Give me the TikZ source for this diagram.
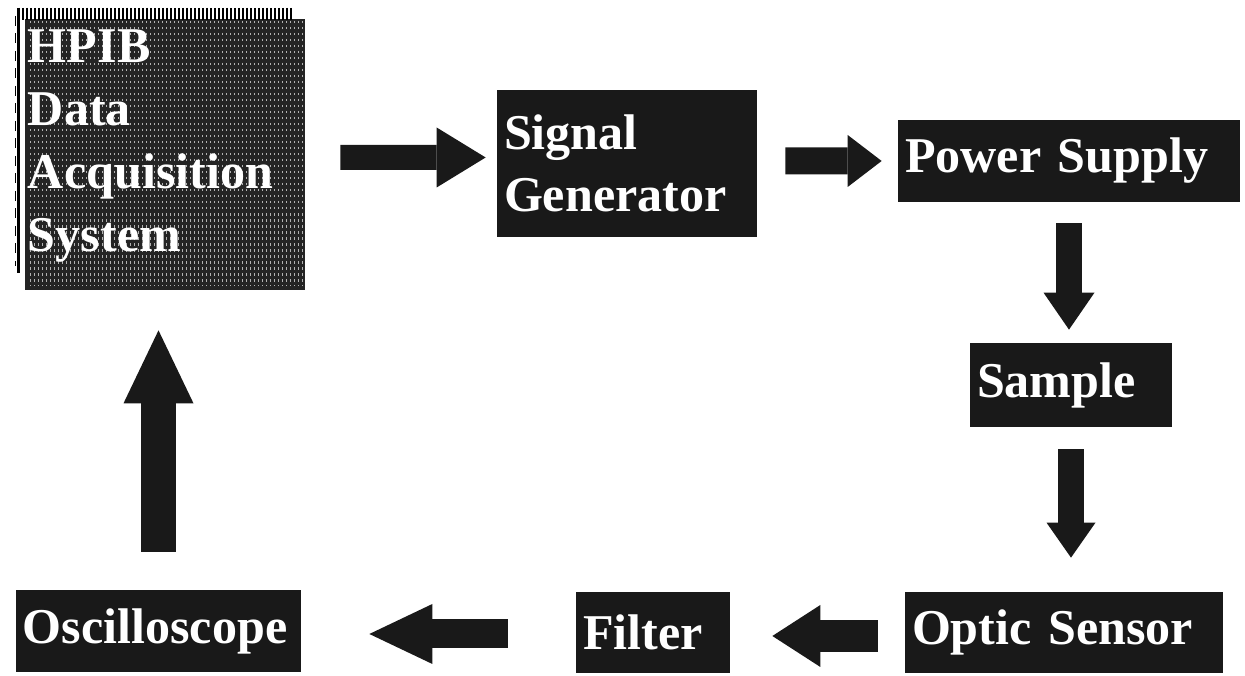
\documentclass[tikz,border=0pt]{standalone}
\usepackage{fontspec}
\setmainfont{Liberation Serif}
\usetikzlibrary{arrows.meta}
\definecolor{boxgray}{gray}{0.1}
\definecolor{streakgray}{gray}{0.14}

\tikzset{
	block/.style n args={2}{fill=boxgray, inner sep=0pt, inner xsep=0.14cm,
		minimum width=#1, minimum height=#2, text width=#1-0.28cm,
		align=left, text=white, font=\fontsize{28.5}{35.5}\selectfont\bfseries},
	flow/.style n args={3}{draw=boxgray, line width=#1,
		-{Triangle[width=#2, length=#3, line width=0pt]}}
}

\begin{document}
\begin{tikzpicture}
	%%%%% START %%%%%
	\useasboundingbox (0, 0) rectangle (24.9, 13.52);
	
	% top row
	\node[block={5.6cm}{5.42cm}, fill=streakgray, font=\fontsize{28.5}{35.85}\selectfont\bfseries, inner xsep=0.06cm, text width=5.48cm, text depth=4.32cm] (hpib) at (3.3, 10.43) {};
	% streaks of the hpib box
	\foreach \x in {0.6, 0.68, ..., 6.05}
		\draw[white!70!black, line width=0.015cm, dash pattern=on 0.05cm off 0.07cm] (\x, 13.1) -- (\x, 7.8);
	\node[block={5.6cm}{5.42cm}, fill=none, font=\fontsize{28.5}{35.85}\selectfont\bfseries, inner xsep=0.06cm, text width=5.48cm, text depth=4.32cm] (hpibtext) at (hpib) {HPIB\\Data\\Acquisition\\System};
	\node[block={5.2cm}{2.94cm}] (siggen) at (12.54, 10.25) {Signal\\Generator};
	\node[block={6.84cm}{1.64cm}] (power) at (21.38, 10.3) {Power Supply};
	
	% right column
	\node[block={4.04cm}{1.68cm}] (sample) at (21.42, 5.82) {Sample};
	
	% bottom row
	\node[block={6.36cm}{1.62cm}] (optic) at (21.28, 0.87) {Optic Sensor};
	\node[block={3.08cm}{1.62cm}] (filter) at (13.06, 0.87) {Filter};
	\node[block={5.7cm}{1.64cm}] (scope) at (3.17, 0.9) {Oscilloscope};
	
	% ruled edge of the hpib box
	\foreach \x in {0.38, 0.46, ..., 5.85}
		\draw[line width=0.025cm] (\x, 13.36) -- (\x, 13.12);
	\draw[line width=0.05cm] (0.37, 13.36) -- (0.37, 8.06);
	\draw[line width=0.02cm, dash pattern=on 0.2cm off 0.15cm] (0.3, 13.2) -- (0.3, 8.2);
	
	% arrows
	\draw[flow={0.5cm}{1.2cm}{0.98cm}] ([xshift=0.7cm, yshift=-0.06cm]hpib.east) -- ([xshift=-0.22cm, yshift=0.12cm]siggen.west);
	\draw[flow={0.54cm}{1.04cm}{0.68cm}] ([xshift=0.56cm, yshift=0.05cm]siggen.east) -- ([xshift=-0.32cm]power.west);
	\draw[flow={0.52cm}{1.02cm}{0.74cm}, shorten <=0.42cm, shorten >=0.26cm] (power.south) -- (power.south |- sample.north);
	\draw[flow={0.52cm}{0.98cm}{0.7cm}, shorten <=0.44cm, shorten >=0.68cm] (sample.south) -- (sample.south |- optic.north);
	\draw[flow={0.64cm}{1.24cm}{0.96cm}, shorten <=0.54cm, shorten >=0.84cm] ([yshift=-0.07cm]optic.west) -- ([yshift=-0.07cm]optic.west -| filter.east);
	\draw[flow={0.58cm}{1.2cm}{1.26cm}, shorten <=1.36cm, shorten >=1.36cm] ([yshift=-0.03cm]filter.west) -- ([yshift=-0.03cm]filter.west -| scope.east);
	\draw[flow={0.7cm}{1.4cm}{1.46cm}, shorten <=0.76cm, shorten >=0.8cm] (scope.north) -- (scope.north |- hpib.south);
	%%%%% END %%%%%
\end{tikzpicture}
\end{document}
